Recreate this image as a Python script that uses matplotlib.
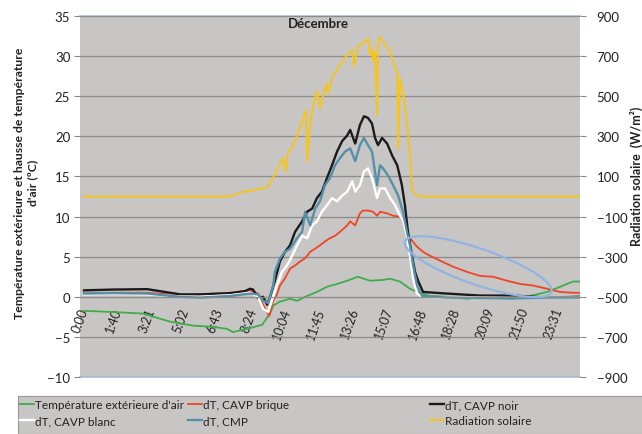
import matplotlib
matplotlib.use('Agg')
import matplotlib.pyplot as plt
from matplotlib.patches import Ellipse, Rectangle
from matplotlib.transforms import ScaledTranslation

plt.rcParams['font.family'] = ['Lato', 'DejaVu Sans']

# ---------------- data (time in minutes since 0:00) ----------------
tick_minutes = [0, 100, 201, 302, 403, 504, 604, 705, 806, 907, 1008, 1108, 1209, 1310, 1411]
tick_labels = ['0:00', '1:40', '3:21', '5:02', '6:43', '8:24', '10:04', '11:45',
               '13:26', '15:07', '16:48', '18:28', '20:09', '21:50', '23:31']

t_ext = [0, 86, 176, 256, 324, 384, 426, 443, 485, 530, 555, 563, 583, 613, 634, 664, 693, 723,
         753, 783, 815, 851, 890, 911, 940, 970, 991, 1030, 1080, 1140, 1179, 1277, 1327, 1378,
         1417, 1455, 1476]
temp_ext = [-1.75, -1.9, -2.1, -3.1, -3.6, -3.75, -4.0, -4.4, -4.0, -3.5, -2.0, -1.1, -0.6, -0.25,
            -0.5, 0.1, 0.6, 1.25, 1.6, 2.0, 2.5, 2.0, 2.1, 2.25, 1.9, 1.0, 0.6, 0.1, 0.0, -0.25,
            0.0, -0.25, 0.1, 0.6, 1.25, 1.9, 1.9]

t_brique = [0, 86, 188, 286, 345, 435, 494, 518, 533, 551, 563, 574, 583, 598, 613, 628, 643, 658,
            673, 688, 702, 717, 732, 747, 762, 783, 792, 807, 821, 830, 845, 860, 872, 881, 902,
            920, 940, 949, 964, 976, 991, 1009, 1030, 1060, 1098, 1140, 1179, 1217, 1259, 1298,
            1336, 1378, 1417, 1455, 1476]
dt_brique = [0.4, 0.5, 0.5, 0.2, 0.3, 0.5, 0.8, 0.4, -1.0, -2.4, -0.5, 0.3, 1.4, 2.3, 3.5, 3.9,
             4.4, 4.8, 5.6, 6.0, 6.4, 6.9, 7.3, 7.6, 8.1, 8.9, 9.4, 8.9, 10.4, 10.75, 10.75, 10.6,
             10.1, 10.6, 10.4, 10.1, 10.0, 9.4, 7.6, 7.0, 6.25, 5.6, 5.1, 4.5, 3.75, 3.1, 2.6, 2.5,
             2.0, 1.6, 1.4, 1.0, 0.6, 0.5, 0.5]

t_noir = [0, 86, 188, 241, 286, 345, 435, 479, 494, 503, 518, 533, 545, 555, 568, 583, 598, 613,
          628, 649, 664, 679, 693, 708, 723, 738, 753, 768, 783, 792, 807, 821, 833, 845, 857, 866,
          875, 887, 902, 917, 932, 946, 955, 964, 976, 985, 994, 1009, 1080, 1179, 1277, 1378, 1476]
dt_noir = [0.8, 0.9, 0.95, 0.6, 0.3, 0.3, 0.45, 0.7, 1.0, 0.9, -0.2, 0.0, -1.0, 0.2, 2.0, 4.4, 5.6,
           6.4, 8.1, 9.4, 10.6, 11.0, 12.3, 13.1, 14.8, 16.4, 18.1, 19.4, 20.1, 20.8, 19.1, 21.4,
           22.5, 22.3, 21.6, 19.8, 18.9, 19.8, 19.1, 17.6, 16.4, 13.9, 11.4, 8.1, 5.1, 3.1, 2.0,
           0.6, 0.4, 0.15, 0.15, -0.1, 0.0]

t_blanc = [0, 86, 188, 286, 345, 435, 494, 518, 533, 548, 563, 574, 589, 604, 619, 634, 649, 664,
           679, 693, 708, 723, 738, 753, 768, 783, 798, 807, 821, 833, 845, 857, 872, 881, 896,
           911, 926, 940, 949, 961, 970, 979, 991, 1006, 1080, 1179, 1277, 1378, 1476]
dt_blanc = [0.3, 0.35, 0.3, 0.05, 0.0, 0.2, 0.5, 0.0, -1.5, -1.9, 0.0, 1.4, 3.1, 3.9, 5.1, 6.4,
            7.6, 7.3, 8.9, 9.4, 10.6, 11.4, 12.3, 11.9, 12.6, 13.1, 14.4, 13.1, 13.9, 15.6, 16.0,
            14.8, 12.3, 13.5, 13.5, 12.3, 11.4, 10.1, 9.5, 7.6, 5.1, 2.3, 0.4, 0.0, -0.1, -0.1,
            -0.15, -0.1, -0.1]

t_cmp = [0, 86, 188, 286, 345, 435, 494, 518, 533, 548, 563, 568, 583, 598, 613, 634, 649, 658,
         673, 688, 702, 717, 732, 747, 762, 777, 792, 807, 821, 833, 845, 857, 872, 881, 890, 905,
         920, 935, 949, 961, 970, 979, 991, 1006, 1080, 1179, 1277, 1378, 1476]
dt_cmp = [0.4, 0.45, 0.4, 0.0, -0.1, 0.1, 0.4, 0.3, -0.5, -0.8, 1.4, 3.1, 4.8, 5.6, 6.0, 7.3, 8.1,
          10.6, 8.9, 11.0, 11.9, 13.9, 14.8, 16.4, 17.3, 18.1, 18.5, 16.9, 18.9, 19.8, 18.9, 18.1,
          13.9, 16.4, 16.0, 15.1, 13.9, 12.6, 10.6, 8.1, 6.4, 4.0, 1.4, 0.1, -0.1, -0.15, -0.2,
          -0.1, -0.1]

t_rad = [0, 420, 443, 464, 500, 545, 568, 585, 592, 601, 604, 620, 634, 650, 661, 664, 673, 685,
         693, 702, 712, 723, 726, 740, 762, 780, 798, 804, 815, 830, 842, 845, 851, 857, 860, 866,
         872, 875, 881, 895, 911, 925, 932, 935, 940, 946, 955, 961, 970, 976, 985, 1000, 1476]
radiation = [0, 0, 5, 20, 30, 45, 110, 170, 190, 125, 205, 250, 305, 380, 430, 175, 355, 480, 525,
             440, 510, 565, 515, 600, 655, 700, 730, 650, 750, 765, 775, 790, 705, 740, 675, 720,
             405, 780, 795, 760, 725, 640, 625, 240, 590, 540, 460, 375, 205, 40, 10, 0, 0]

labels = ["Température extérieure d'air", "dT, CAVP brique", "dT, CAVP noir",
          "dT, CAVP blanc", "dT, CMP", "Radiation solaire"]
colors = {'ext': '#3fae49', 'brique': '#ef4426', 'noir': '#1c1a1a', 'blanc': '#ffffff',
          'cmp': '#5490a8', 'rad': '#f5c51c'}

# annotation ellipse (centre in data units)
ell_center = (1173, 3.75)

# ---------------- figure ----------------
W, H = 642, 435
fig = plt.figure(figsize=(W / 100, H / 100), dpi=100)
fig.patch.set_facecolor('white')
L, R, T, B = 80, 580, 17, 378
ax = fig.add_axes([L / W, 1 - B / H, (R - L) / W, (B - T) / H])
ax.set_facecolor('#c8c6c5')
ax.set_xlim(-12, 1476)
ax.set_ylim(-10, 35)
ax.set_yticks(range(-10, 36, 5))
ax.grid(axis='y', color='#8f8a89', lw=0.9)
ax.set_axisbelow(True)
for s in ['left', 'right', 'top']:
    ax.spines[s].set_visible(False)
ax.spines['bottom'].set_position(('data', 0))
ax.spines['bottom'].set_color('#8f8a89')
ax.axhline(35, color='#a9bfd6', lw=1.2, clip_on=False, zorder=0.5)
ax.axhline(-10, color='#a9bfd6', lw=1.2, clip_on=False, zorder=0.5)

ax.set_xticks(tick_minutes)
ax.set_xticklabels(tick_labels, rotation=70, ha='right', va='center', rotation_mode='anchor',
                   fontsize=9, color='#222222')
ax.tick_params(axis='x', length=0, pad=8)
ax.tick_params(axis='y', length=4, color='#8f8a89', labelsize=9.5, labelcolor='#222222', pad=3)

l_ext, = ax.plot(t_ext, temp_ext, color=colors['ext'], lw=1.3)
l_bri, = ax.plot(t_brique, dt_brique, color=colors['brique'], lw=1.3)
l_noi, = ax.plot(t_noir, dt_noir, color=colors['noir'], lw=1.7)
l_bla, = ax.plot(t_blanc, dt_blanc, color=colors['blanc'], lw=1.7)
l_cmp, = ax.plot(t_cmp, dt_cmp, color=colors['cmp'], lw=1.7)

ax2 = ax.twinx()
ax2.set_ylim(-900, 900)
ax2.set_yticks(range(-900, 901, 200))
for s in ax2.spines.values():
    s.set_visible(False)
ax2.tick_params(axis='y', length=4, color='#8f8a89', labelsize=9.5, labelcolor='#222222', pad=8)
l_rad, = ax2.plot(t_rad, radiation, color=colors['rad'], lw=1.4)

# ellipse annotation
etr = fig.dpi_scale_trans + ScaledTranslation(ell_center[0], ell_center[1], ax.transData)
ax2.add_artist(Ellipse((0, 0), 1.55, 0.36, angle=-19, fill=False, ec='#90b5df', lw=1.6,
                       transform=etr, zorder=5))

# labels
ax.set_ylabel("Température extérieure et hausse de température\nd'air (ºC)", fontsize=8.8,
              fontweight='bold', color='#222222', multialignment='center', linespacing=1.2)
ax.yaxis.set_label_coords(-0.084, 0.54)
ax2.set_ylabel("Radiation solaire  (W/m²)", fontsize=9, fontweight='bold', color='#222222',
               rotation=90)
ax2.yaxis.set_label_coords(1.10, 0.56)
ax.text(0.476, 0.98, 'Décembre', transform=ax.transAxes, ha='center', va='center',
        fontsize=9.5, fontweight='bold', color='#222222')

# legend box
fig.patches.append(Rectangle((18 / W, 0), 1, (H - 397) / H, transform=fig.transFigure,
                             facecolor='#c8c6c5', edgecolor='#9a9696', lw=0.8, zorder=0))
groups = [([l_ext, l_bla], [labels[0], labels[3]], 20),
          ([l_bri, l_cmp], [labels[1], labels[4]], 188),
          ([l_noi, l_rad], [labels[2], labels[5]], 430)]
for hs, ls, xpx in groups:
    fig.legend(hs, ls, loc='upper left', bbox_to_anchor=(xpx / W, (H - 400) / H),
               frameon=False, fontsize=8.5, handlelength=1.2, handletextpad=0.1,
               labelspacing=0.45, borderaxespad=0, borderpad=0, labelcolor='#222222')

fig.savefig('out.png', dpi=100)
